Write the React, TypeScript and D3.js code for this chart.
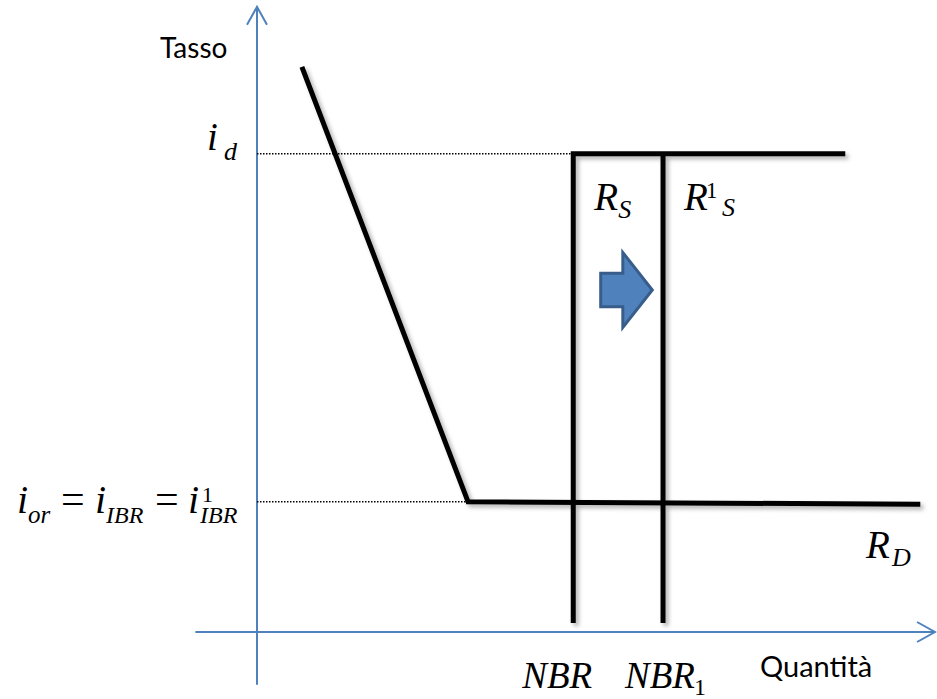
import React from 'react';
import * as d3 from 'd3';

// chart values (conceptual units: quantity 0-100, rate 0-100)
const demandCurve = [
  { q: 6.7, r: 94.2 },
  { q: 31.5, r: 21.7 },
  { q: 99.0, r: 21.3 },
];
const nbr = 47.2;
const nbr1 = 60.6;
const supplyTopEnd = 87.8;
const supplyBottom = 1.5;
const rateD = 79.7; // i_d
const rateOr = 21.7; // i_or = i_IBR
// block arrow (shift of supply) in the same units
const shiftArrow = { from: 51.3, neck: 54.6, tip: 59.0, r: 57, shaft: 2.8, head: 6.25 };
const axisExtent = { qMin: -9.2, qMax: 101.2, rMin: -8.8, rMax: 104.2 };

const W = 937;
const H = 699;
const axisBlue = '#4F81BD';
const serif = '"Liberation Serif", "Times New Roman", serif';
const sans = 'Lato, "Open Sans", sans-serif';

const x = d3.scaleLinear().domain([0, 100]).range([257, 927]);
const y = d3.scaleLinear().domain([0, 100]).range([632, 32]);

export default function App() {
  const line = d3.line<{ q: number; r: number }>().x(d => x(d.q)).y(d => y(d.r));

  const supplyPath = line([
    { q: nbr, r: supplyBottom },
    { q: nbr, r: rateD },
    { q: supplyTopEnd, r: rateD },
  ]);
  const supply1Path = line([
    { q: nbr1, r: supplyBottom },
    { q: nbr1, r: rateD },
  ]);

  const a = shiftArrow;
  const arrowPts: [number, number][] = [
    [a.from, a.r + a.shaft],
    [a.neck, a.r + a.shaft],
    [a.neck, a.r + a.head],
    [a.tip, a.r],
    [a.neck, a.r - a.head],
    [a.neck, a.r - a.shaft],
    [a.from, a.r - a.shaft],
  ];
  const arrowPath = d3.line()(arrowPts.map(p => [x(p[0]), y(p[1])] as [number, number])) + 'Z';

  const x0 = x(0);
  const y0 = y(0);
  const xEnd = x(axisExtent.qMax);
  const yTop = y(axisExtent.rMax);
  const yOr = y(rateOr);

  return (
    <div style={{ position: 'absolute', left: 0, top: 0 }}>
      <svg width={W} height={H} style={{ display: 'block', background: '#fff' }}>
        <defs>
          <filter id="shadow" x="-20%" y="-20%" width="140%" height="140%">
            <feDropShadow dx="3" dy="3" stdDeviation="2" floodColor="#000" floodOpacity="0.3" />
          </filter>
        </defs>

        {/* axes */}
        <g stroke={axisBlue} strokeWidth={2} fill="none">
          <line x1={x(axisExtent.qMin)} y1={y0} x2={xEnd} y2={y0} />
          <line x1={x0} y1={y(axisExtent.rMin)} x2={x0} y2={yTop} />
          <path d={`M${xEnd - 18},${y0 - 10}L${xEnd},${y0}L${xEnd - 18},${y0 + 10}`} />
          <path d={`M${x0 - 10},${yTop + 18}L${x0},${yTop}L${x0 + 10},${yTop + 18}`} />
        </g>

        {/* dotted guides */}
        <g stroke="#000" strokeWidth={1.5} strokeDasharray="1.5,1.5">
          <line x1={x0} y1={y(rateD)} x2={x(nbr)} y2={y(rateD)} />
          <line x1={x0} y1={yOr} x2={x(demandCurve[1].q)} y2={yOr} />
        </g>

        {/* curves */}
        <g stroke="#000" strokeWidth={5} fill="none" filter="url(#shadow)">
          <path d={line(demandCurve) || ''} />
          <path d={supplyPath || ''} />
          <path d={supply1Path || ''} />
        </g>

        <path d={arrowPath} fill="#4F81BD" stroke="#385D8A" strokeWidth={3} strokeLinejoin="miter" />

        {/* axis titles */}
        <text x={160} y={58} fontFamily={sans} fontSize={28} fill="#000">Tasso</text>
        <text x={760} y={677} fontFamily={sans} fontSize={29} fill="#000">Quantità</text>

        {/* math labels */}
        <g fontFamily={serif} fontStyle="italic" fill="#000">
          <text fontSize={39}>
            <tspan x={x0 - 50} y={y(rateD) - 4}>i</tspan>
            <tspan x={x0 - 33} y={y(rateD) + 6} fontSize={26}>d</tspan>
          </text>

          <text fontSize={40}>
            <tspan x={17} y={yOr + 11}>i</tspan>
            <tspan x={28} y={yOr + 21} fontSize={25}>or</tspan>
            <tspan x={61} y={yOr + 11} fontStyle="normal" fontSize={42}>=</tspan>
            <tspan x={95} y={yOr + 11}>i</tspan>
            <tspan x={106} y={yOr + 21} fontSize={24}>IBR</tspan>
            <tspan x={155} y={yOr + 11} fontStyle="normal" fontSize={42}>=</tspan>
            <tspan x={188} y={yOr + 11}>i</tspan>
            <tspan x={202} y={yOr} fontSize={22} fontStyle="normal">1</tspan>
            <tspan x={200} y={yOr + 21} fontSize={24}>IBR</tspan>
          </text>

          <text fontSize={39}>
            <tspan x={x(nbr) + 21} y={y(rateD) + 56}>R</tspan>
            <tspan x={x(nbr) + 45} y={y(rateD) + 64} fontSize={26}>S</tspan>
          </text>
          <text fontSize={39}>
            <tspan x={x(nbr1) + 21} y={y(rateD) + 56}>R</tspan>
            <tspan x={x(nbr1) + 43} y={y(rateD) + 44} fontSize={23} fontStyle="normal">1</tspan>
            <tspan x={x(nbr1) + 59} y={y(rateD) + 62} fontSize={26}>S</tspan>
          </text>

          <text fontSize={39}>
            <tspan x={866} y={y(demandCurve[2].r) + 54}>R</tspan>
            <tspan x={892} y={y(demandCurve[2].r) + 62} fontSize={26}>D</tspan>
          </text>

          <text fontSize={37}>
            <tspan x={x(nbr) - 51} y={688}>NBR</tspan>
          </text>
          <text fontSize={37}>
            <tspan x={x(nbr1) - 38} y={688}>NBR</tspan>
            <tspan x={x(nbr1) + 31} y={695} fontSize={24} fontStyle="normal">1</tspan>
          </text>
        </g>
      </svg>
    </div>
  );
}
